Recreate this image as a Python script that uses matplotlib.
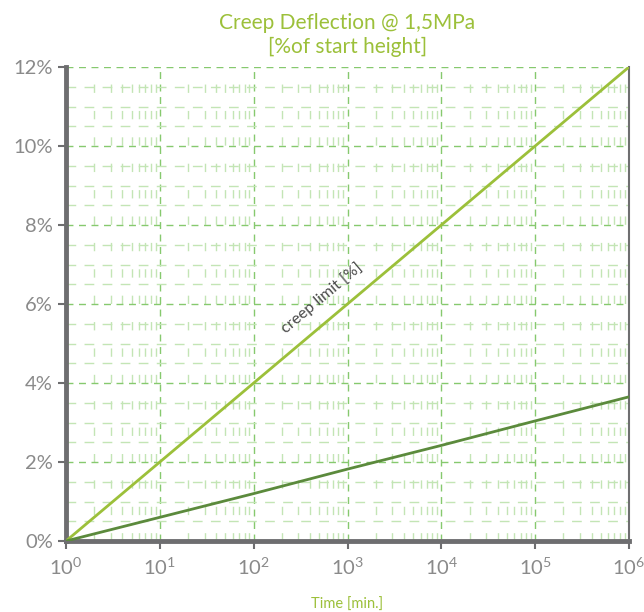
import matplotlib
matplotlib.use("Agg")
import matplotlib.pyplot as plt
from matplotlib.ticker import MultipleLocator, LogLocator, FuncFormatter, NullFormatter, FixedLocator
import numpy as np

# data
time_min = [1, 10, 100, 1000, 10000, 100000, 1000000]
creep_limit = [0.0, 2.0, 4.0, 6.0, 8.0, 10.0, 12.0]
creep_measured = [0.0, 0.6, 1.2, 1.82, 2.42, 3.04, 3.65]
x_tick_labels = ["$10^{0}$", "$10^{1}$", "$10^{2}$", "$10^{3}$", "$10^{4}$", "$10^{5}$", "$10^{6}$"]

title = "Creep Deflection @ 1,5MPa\n[%of start height]"
xlabel = "Time [min.]"
line_label = "creep limit [%]"

LIGHT = "#9cc03a"
DARK = "#5b8a3c"
GREY = "#6e6e70"
TXT = "#8a8a8a"

plt.rcParams["font.family"] = ["Lato", "DejaVu Sans"]
plt.rcParams["mathtext.default"] = "regular"

fig = plt.figure(figsize=(6.44, 6.12), dpi=100)
ax = fig.add_axes([66 / 644, 1 - 541 / 612, (629 - 66) / 644, (541 - 67) / 612])

ax.set_xscale("log")
ax.set_xlim(1, 1e6)
ax.set_ylim(0, 12)

# grid
ax.xaxis.set_major_locator(FixedLocator(time_min))
ax.set_xticklabels(x_tick_labels)
ax.xaxis.set_minor_locator(LogLocator(base=10, subs=np.arange(2, 10), numticks=20))
ax.xaxis.set_minor_formatter(NullFormatter())
ax.yaxis.set_major_locator(MultipleLocator(2))
ax.yaxis.set_minor_locator(MultipleLocator(0.5))
ax.grid(True, which="major", color="#86c96e", linestyle=(0, (5, 4)), linewidth=1.0)
ax.grid(True, which="minor", axis="y", color="#c3e5b5", linestyle=(0, (7, 6)), linewidth=1.0)
ax.grid(True, which="minor", axis="x", color="#c3e5b5", linestyle=(0, (6, 13)), linewidth=1.0)
ax.set_axisbelow(True)

ax.plot(time_min, creep_limit, color=LIGHT, linewidth=2, zorder=3)
ax.plot(time_min, creep_measured, color=DARK, linewidth=2, zorder=3)

ax.text(537, 6.15, line_label, rotation=40, rotation_mode="anchor",
        ha="center", va="center", fontsize=11.5, color="#4a4a4a")

# spines
ax.spines["top"].set_visible(False)
ax.spines["left"].set_color(GREY)
ax.spines["left"].set_linewidth(3.5)
ax.spines["bottom"].set_color(GREY)
ax.spines["bottom"].set_linewidth(3.5)
ax.spines["right"].set_color(GREY)
ax.spines["right"].set_linewidth(1.5)

ax.yaxis.set_major_formatter(FuncFormatter(lambda v, p: f"{v:.0f}%"))
ax.tick_params(axis="both", which="major", colors=GREY, labelcolor=TXT,
               labelsize=14.5, length=6, width=1.5)
ax.tick_params(axis="both", which="minor", length=0)
ax.tick_params(axis="x", pad=5)

ax.set_title(title, color=LIGHT, fontsize=15, pad=10, linespacing=1.25)
ax.set_xlabel(xlabel, color=LIGHT, fontsize=10.5, labelpad=15)

fig.savefig("out.png", dpi=100)
